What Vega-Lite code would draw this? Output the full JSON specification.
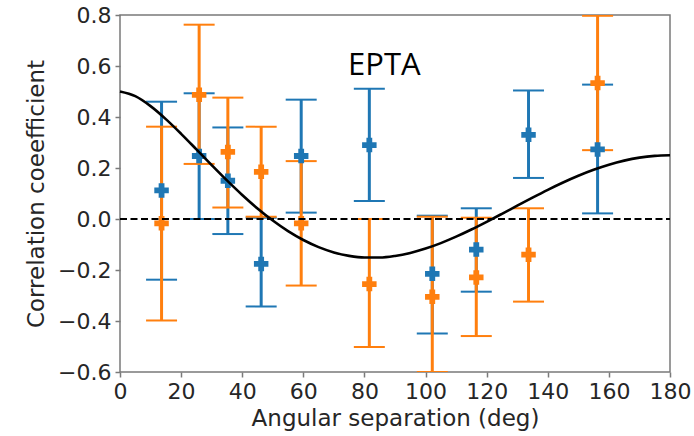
{
  "$schema": "https://vega.github.io/schema/vega-lite/v6.json",
  "autosize": "none",
  "width": 550,
  "height": 357,
  "padding": {"left": 120, "top": 15, "right": 24, "bottom": 64},
  "background": "white",
  "config": {
    "view": {"stroke": "#7a7a7a", "strokeWidth": 1.5},
    "axis": {
      "labelFont": "DejaVu Sans",
      "labelFontSize": 22,
      "labelColor": "#262626",
      "titleFont": "DejaVu Sans",
      "titleFontSize": 23,
      "titleFontWeight": "normal",
      "titleColor": "#262626",
      "grid": false,
      "domain": false,
      "tickColor": "#7a7a7a",
      "tickWidth": 1.5,
      "tickSize": 5,
      "labelPadding": 4,
      "labelFlush": false,
      "labelOverlap": false
    }
  },
  "datasets": {
    "pts": [
      {"series": "blue", "angle": 13.6, "r": 0.112, "lo": -0.238, "hi": 0.46},
      {"series": "blue", "angle": 25.9, "r": 0.247, "lo": 0.0, "hi": 0.493},
      {"series": "blue", "angle": 35.3, "r": 0.15, "lo": -0.059, "hi": 0.359},
      {"series": "blue", "angle": 46.2, "r": -0.176, "lo": -0.343, "hi": 0.005},
      {"series": "blue", "angle": 59.3, "r": 0.247, "lo": 0.025, "hi": 0.468},
      {"series": "blue", "angle": 81.6, "r": 0.29, "lo": 0.071, "hi": 0.511},
      {"series": "blue", "angle": 102.2, "r": -0.215, "lo": -0.449, "hi": 0.013},
      {"series": "blue", "angle": 116.6, "r": -0.12, "lo": -0.285, "hi": 0.042},
      {"series": "blue", "angle": 133.7, "r": 0.33, "lo": 0.161, "hi": 0.504},
      {"series": "blue", "angle": 156.3, "r": 0.273, "lo": 0.022, "hi": 0.527},
      {"series": "orange", "angle": 13.6, "r": -0.017, "lo": -0.398, "hi": 0.362},
      {"series": "orange", "angle": 25.9, "r": 0.487, "lo": 0.216, "hi": 0.762},
      {"series": "orange", "angle": 35.3, "r": 0.263, "lo": 0.045, "hi": 0.476},
      {"series": "orange", "angle": 46.2, "r": 0.185, "lo": 0.009, "hi": 0.362},
      {"series": "orange", "angle": 59.3, "r": -0.017, "lo": -0.261, "hi": 0.227},
      {"series": "orange", "angle": 81.6, "r": -0.255, "lo": -0.502, "hi": 0.0},
      {"series": "orange", "angle": 102.2, "r": -0.305, "lo": -0.6, "hi": 0.009},
      {"series": "orange", "angle": 116.6, "r": -0.229, "lo": -0.459, "hi": 0.005},
      {"series": "orange", "angle": 133.7, "r": -0.14, "lo": -0.324, "hi": 0.042},
      {"series": "orange", "angle": 156.3, "r": 0.533, "lo": 0.27, "hi": 0.797}
    ],
    "hd": [
      {"angle": 0, "gamma": 0.5},
      {"angle": 5, "gamma": 0.4816},
      {"angle": 10, "gamma": 0.4425},
      {"angle": 15, "gamma": 0.3917},
      {"angle": 20, "gamma": 0.3341},
      {"angle": 25, "gamma": 0.2732},
      {"angle": 30, "gamma": 0.2116},
      {"angle": 35, "gamma": 0.1514},
      {"angle": 40, "gamma": 0.0943},
      {"angle": 45, "gamma": 0.0414},
      {"angle": 50, "gamma": -0.0061},
      {"angle": 55, "gamma": -0.0476},
      {"angle": 60, "gamma": -0.0824},
      {"angle": 65, "gamma": -0.1102},
      {"angle": 70, "gamma": -0.1309},
      {"angle": 75, "gamma": -0.1445},
      {"angle": 80, "gamma": -0.1511},
      {"angle": 85, "gamma": -0.1511},
      {"angle": 90, "gamma": -0.1449},
      {"angle": 95, "gamma": -0.1329},
      {"angle": 100, "gamma": -0.1159},
      {"angle": 105, "gamma": -0.0945},
      {"angle": 110, "gamma": -0.0693},
      {"angle": 115, "gamma": -0.0413},
      {"angle": 120, "gamma": -0.0111},
      {"angle": 125, "gamma": 0.0203},
      {"angle": 130, "gamma": 0.0522},
      {"angle": 135, "gamma": 0.0839},
      {"angle": 140, "gamma": 0.1145},
      {"angle": 145, "gamma": 0.1433},
      {"angle": 150, "gamma": 0.1697},
      {"angle": 155, "gamma": 0.1931},
      {"angle": 160, "gamma": 0.213},
      {"angle": 165, "gamma": 0.2289},
      {"angle": 170, "gamma": 0.2406},
      {"angle": 175, "gamma": 0.2476},
      {"angle": 180, "gamma": 0.25}
    ],
    "label": [{"angle": 86.5, "r": 0.565, "text": "EPTA"}]
  },
  "layer": [
    {
      "data": {"name": "pts"},
      "transform": [{"filter": "datum.series == 'blue'"}],
      "mark": {"type": "rule", "strokeWidth": 3, "color": "#1f77b4", "clip": true},
      "encoding": {
        "x": {
          "field": "angle",
          "type": "quantitative",
          "scale": {"domain": [0, 180], "nice": false, "zero": false},
          "axis": {"title": "Angular separation (deg)", "values": [0, 20, 40, 60, 80, 100, 120, 140, 160, 180], "titlePadding": 5}
        },
        "y": {
          "field": "lo",
          "type": "quantitative",
          "scale": {"domain": [-0.6, 0.8], "nice": false, "zero": false},
          "axis": {
            "title": "Correlation coeefficient",
            "values": [-0.6, -0.4, -0.2, 0.0, 0.2, 0.4, 0.6, 0.8],
            "labelExpr": "replace(format(datum.value, '.1f'), '-', '\u2212')",
            "titlePadding": 9
          }
        },
        "y2": {"field": "hi"}
      }
    },
    {
      "data": {"name": "pts"},
      "transform": [{"filter": "datum.series == 'blue'"}],
      "mark": {"type": "tick", "orient": "horizontal", "size": 31, "thickness": 2, "color": "#1f77b4", "opacity": 1, "clip": true},
      "encoding": {"x": {"field": "angle", "type": "quantitative"}, "y": {"field": "lo", "type": "quantitative"}}
    },
    {
      "data": {"name": "pts"},
      "transform": [{"filter": "datum.series == 'blue'"}],
      "mark": {"type": "tick", "orient": "horizontal", "size": 31, "thickness": 2, "color": "#1f77b4", "opacity": 1, "clip": true},
      "encoding": {"x": {"field": "angle", "type": "quantitative"}, "y": {"field": "hi", "type": "quantitative"}}
    },
    {
      "data": {"name": "pts"},
      "transform": [{"filter": "datum.series == 'orange'"}],
      "mark": {"type": "rule", "strokeWidth": 3, "color": "#ff7f0e", "clip": true},
      "encoding": {
        "x": {"field": "angle", "type": "quantitative"},
        "y": {"field": "lo", "type": "quantitative"},
        "y2": {"field": "hi"}
      }
    },
    {
      "data": {"name": "pts"},
      "transform": [{"filter": "datum.series == 'orange'"}],
      "mark": {"type": "tick", "orient": "horizontal", "size": 31, "thickness": 2, "color": "#ff7f0e", "opacity": 1, "clip": true},
      "encoding": {"x": {"field": "angle", "type": "quantitative"}, "y": {"field": "lo", "type": "quantitative"}}
    },
    {
      "data": {"name": "pts"},
      "transform": [{"filter": "datum.series == 'orange'"}],
      "mark": {"type": "tick", "orient": "horizontal", "size": 31, "thickness": 2, "color": "#ff7f0e", "opacity": 1, "clip": true},
      "encoding": {"x": {"field": "angle", "type": "quantitative"}, "y": {"field": "hi", "type": "quantitative"}}
    },
    {
      "data": {"name": "pts"},
      "mark": {"type": "point", "shape": "cross", "filled": true, "size": 210, "opacity": 1},
      "encoding": {
        "x": {"field": "angle", "type": "quantitative"},
        "y": {"field": "r", "type": "quantitative"},
        "color": {
          "field": "series",
          "type": "nominal",
          "scale": {"domain": ["blue", "orange"], "range": ["#1f77b4", "#ff7f0e"]},
          "legend": null
        }
      }
    },
    {
      "data": {"name": "label"},
      "mark": {"type": "rule", "color": "black", "strokeWidth": 2, "strokeDash": [7, 3.5]},
      "encoding": {
        "x": {"datum": 0, "type": "quantitative"},
        "x2": {"datum": 180},
        "y": {"datum": 0, "type": "quantitative"}
      }
    },
    {
      "data": {"name": "hd"},
      "mark": {"type": "line", "color": "black", "strokeWidth": 2.6, "interpolate": "monotone"},
      "encoding": {
        "x": {"field": "angle", "type": "quantitative"},
        "y": {"field": "gamma", "type": "quantitative"}
      }
    },
    {
      "data": {"name": "label"},
      "mark": {"type": "text", "font": "Open Sans", "fontSize": 31, "align": "center", "baseline": "alphabetic", "color": "black"},
      "encoding": {
        "x": {"field": "angle", "type": "quantitative"},
        "y": {"field": "r", "type": "quantitative"},
        "text": {"field": "text"}
      }
    }
  ]
}
